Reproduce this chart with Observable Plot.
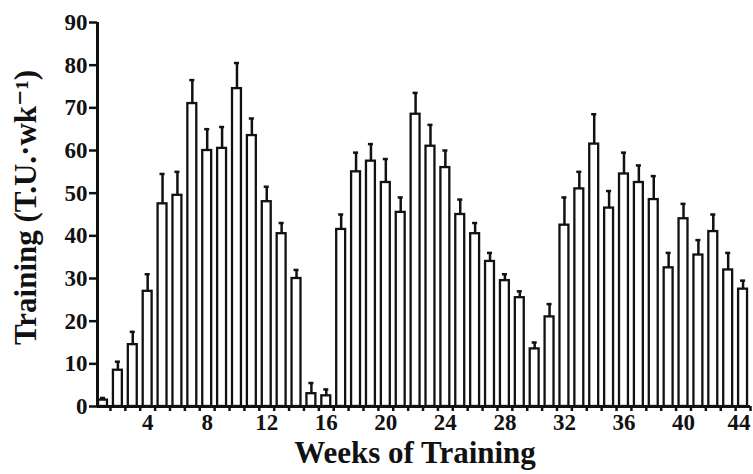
<!DOCTYPE html>
<html>
<head>
<meta charset="utf-8">
<script src="https://cdn.jsdelivr.net/npm/d3@7"></script>
<script src="https://cdn.jsdelivr.net/npm/@observablehq/plot@0.6"></script>
<style>
  html, body { margin: 0; padding: 0; background: #fff; }
</style>
</head>
<body>
<div id="chart"></div>
<script>
const weeks = d3.range(1, 45);
const training = [1.5, 8.5, 14.5, 27, 47.5, 49.5, 71, 60, 60.5, 74.5, 63.5, 48, 40.5, 30, 3,
  2.5, 41.5, 55, 57.5, 52.5, 45.5, 68.5, 61, 56, 45, 40.5, 34, 29.5, 25.5, 13.5,
  21, 42.5, 51, 61.5, 46.5, 54.5, 52.5, 48.5, 32.5, 44, 35.5, 41, 32, 27.5];
const errors = [0.5, 2, 3, 4, 7, 5.5, 5.5, 5, 5, 6, 4, 3.5, 2.5, 2, 2.5,
  1.5, 3.5, 4.5, 4, 5.5, 3.5, 5, 5, 4, 3.5, 2.5, 2, 1.5, 1.5, 1.5,
  3, 6.5, 4, 7, 4, 5, 4, 5.5, 3.5, 3.5, 3.5, 4, 4, 2];
const xTickLabels = [4, 8, 12, 16, 20, 24, 28, 32, 36, 40];
const xLastLabel = [44];
const yTicks = [0, 10, 20, 30, 40, 50, 60, 70, 80, 90];
const xMinorTicks = d3.range(1.5, 45, 1);
const xTitle = "Weeks of Training";
const yTitle = "Training (T.U.\u00b7wk\u207b\u00b9)";

const data = weeks.map((w, i) => ({week: w, value: training[i], err: errors[i]}));

const chart = Plot.plot({
  width: 753,
  height: 474,
  marginLeft: 97,
  marginRight: 3,
  marginTop: 22,
  marginBottom: 68,
  style: {fontFamily: "'Liberation Serif', 'DejaVu Serif', serif", fontWeight: "bold", color: "#111", background: "#fff"},
  x: {type: "linear", domain: [0.63, 44.5]},
  y: {domain: [0, 90]},
  marks: [
    // error bars
    Plot.ruleX(data, {x: "week", y1: "value", y2: d => d.value + d.err, stroke: "#111", strokeWidth: 2.5}),
    Plot.ruleY(data, {y: d => d.value + d.err, x1: d => d.week - 0.17, x2: d => d.week + 0.17, stroke: "#111", strokeWidth: 2.5}),
    // bars
    Plot.rect(data, {x1: d => d.week - 0.3, x2: d => d.week + 0.3, y1: 0, y2: "value", fill: "#fff", stroke: "#111", strokeWidth: 2.3}),
    // axes lines
    Plot.ruleY([0], {stroke: "#111", strokeWidth: 3}),
    Plot.ruleX([0.63], {stroke: "#111", strokeWidth: 3}),
    // x minor ticks
    Plot.axisX({ticks: xMinorTicks, tickSize: 5, tickFormat: () => "", label: null, strokeWidth: 2.5, stroke: "#111"}),
    Plot.axisX({ticks: xTickLabels, tickSize: 0, tickPadding: 7, fontSize: 23, label: null, fill: "#111"}),
    Plot.axisX({ticks: xLastLabel, tickSize: 0, tickPadding: 7, fontSize: 23, label: null, fill: "#111", dx: -4}),
    Plot.axisY({ticks: yTicks, tickSize: 8, tickPadding: 2, fontSize: 23, label: null, strokeWidth: 2.5, stroke: "#111", fill: "#111"}),
    Plot.text([yTitle], {frameAnchor: "left", textAnchor: "middle", lineAnchor: "middle", dx: -71, dy: -7, rotate: -90, fontSize: 31, fontWeight: "bold", fill: "#111"}),
    Plot.text([xTitle], {frameAnchor: "bottom", textAnchor: "middle", lineAnchor: "middle", dx: -9, dy: 47, fontSize: 31, fontWeight: "bold", fill: "#111"})
  ]
});
document.getElementById("chart").appendChild(chart);
</script>
</body>
</html>
